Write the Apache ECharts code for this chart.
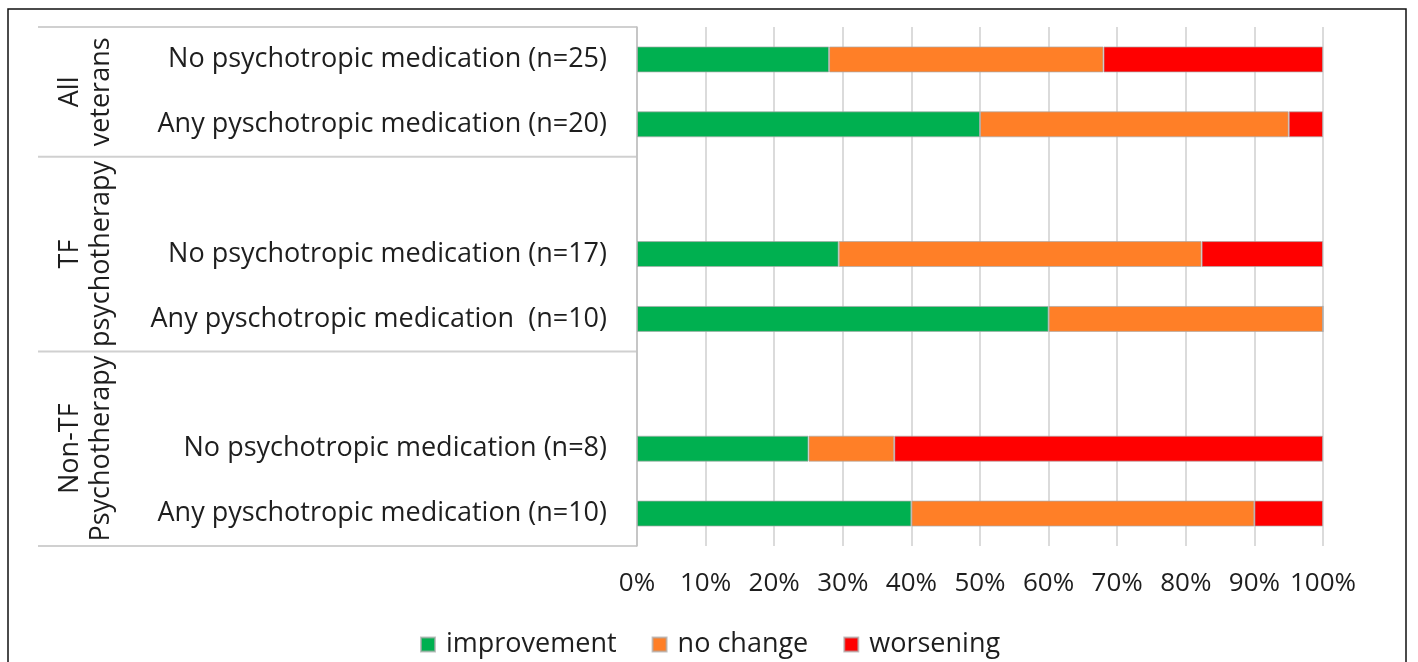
<!DOCTYPE html>
<html>
<head>
<meta charset="utf-8">
<script src="https://cdn.jsdelivr.net/npm/echarts@6/dist/echarts.min.js"></script>
<style>
  html, body { margin: 0; padding: 0; background: #fff; }
  #chart { width: 1418px; height: 662px; }
</style>
</head>
<body>
<div id="chart"></div>
<script>
// rows top to bottom, blank rows separate the groups
const categories = [
  'No psychotropic medication (n=25)',
  'Any pyschotropic medication (n=20)',
  'gap1',
  'No psychotropic medication (n=17)',
  'Any pyschotropic medication  (n=10)',
  'gap2',
  'No psychotropic medication (n=8)',
  'Any pyschotropic medication (n=10)'
];
const improvement = [28, 50, null, 29.4, 60, null, 25, 40];
const noChange = [40, 45, null, 52.9, 40, null, 12.5, 50];
const worsening = [32, 5, null, 17.7, 0, null, 62.5, 10];
const seriesNames = ['improvement', 'no change', 'worsening'];
const colors = ['#00B050', '#FF7F27', '#FF0000'];
// group label lines and the row span they cover [first, last+1]
const groups = [
  { label: 'All\nveterans', from: 0, to: 2 },
  { label: 'TF\npsychotherapy', from: 2, to: 5 },
  { label: 'Non-TF\nPsychotherapy', from: 5, to: 8 }
];

const FONT = '"Open Sans", sans-serif';
const chart = echarts.init(document.getElementById('chart'), null, { renderer: 'canvas' });

const mkSeries = (name, data, i) => ({
  name,
  type: 'bar',
  stack: 'total',
  data,
  barCategoryGap: '60%',
  itemStyle: { color: colors[i], borderColor: 'rgba(170,170,170,0.7)', borderWidth: 1 },
  emphasis: { disabled: true }
});

const option = {
  animation: false,
  color: colors,
  grid: { left: 637, right: 95, top: 27, bottom: 116 },
  xAxis: {
    type: 'value',
    min: 0,
    max: 100,
    interval: 10,
    axisLine: { show: false },
    axisTick: { show: false },
    axisLabel: {
      formatter: '{value}%',
      margin: 25,
      fontFamily: FONT,
      fontSize: 26,
      color: '#1e1e1e'
    },
    splitLine: { lineStyle: { color: '#cfcfcf', width: 1.5 } }
  },
  yAxis: {
    type: 'category',
    inverse: true,
    data: categories,
    axisLine: { lineStyle: { color: '#bfbfbf', width: 1.5 } },
    axisTick: { show: false },
    axisLabel: {
      margin: 30,
      padding: [4, 0, 0, 0],
      fontFamily: FONT,
      fontSize: 27,
      color: '#1e1e1e',
      formatter: (v) => (v.startsWith('gap') ? '' : v)
    }
  },
  legend: {
    left: 415,
    top: 626,
    icon: 'rect',
    itemWidth: 14,
    itemHeight: 14,
    itemGap: 35,
    selectedMode: false,
    textStyle: { fontFamily: FONT, fontSize: 27, color: '#1e1e1e', padding: [0, 0, 0, 6] },
    data: seriesNames
  },
  series: [
    mkSeries(seriesNames[0], improvement, 0),
    mkSeries(seriesNames[1], noChange, 1),
    mkSeries(seriesNames[2], worsening, 2)
  ]
};

chart.setOption(option);

// group separators and rotated group labels, placed from the category axis
const centers = categories.map((c, i) => chart.convertToPixel({ yAxisIndex: 0 }, i));
const slot = centers[1] - centers[0];
const edge = (i) => centers[0] + (i - 0.5) * slot;
const axisX = chart.convertToPixel({ xAxisIndex: 0 }, 0);

const elements = [
  {
    type: 'rect',
    shape: { x: 8, y: 9, width: 1398, height: 700 },
    style: { fill: 'none', stroke: '#111', lineWidth: 1.5 },
    silent: true
  }
];
const edges = [0];
groups.forEach((g) => edges.push(g.to));
edges.forEach((e) => {
  elements.push({
    type: 'line',
    shape: { x1: 38, y1: edge(e), x2: axisX, y2: edge(e) },
    style: { stroke: '#d0d0d0', lineWidth: 2 },
    silent: true
  });
});
groups.forEach((g) => {
  const mid = (edge(g.from) + edge(g.to)) / 2;
  elements.push({
    type: 'text',
    x: 86,
    y: mid,
    rotation: Math.PI / 2,
    style: {
      text: g.label,
      fontFamily: FONT,
      fontSize: 27,
      lineHeight: 31,
      fill: '#1e1e1e',
      align: 'center',
      verticalAlign: 'middle'
    },
    silent: true
  });
});

chart.setOption({ graphic: { elements } });
</script>
</body>
</html>
